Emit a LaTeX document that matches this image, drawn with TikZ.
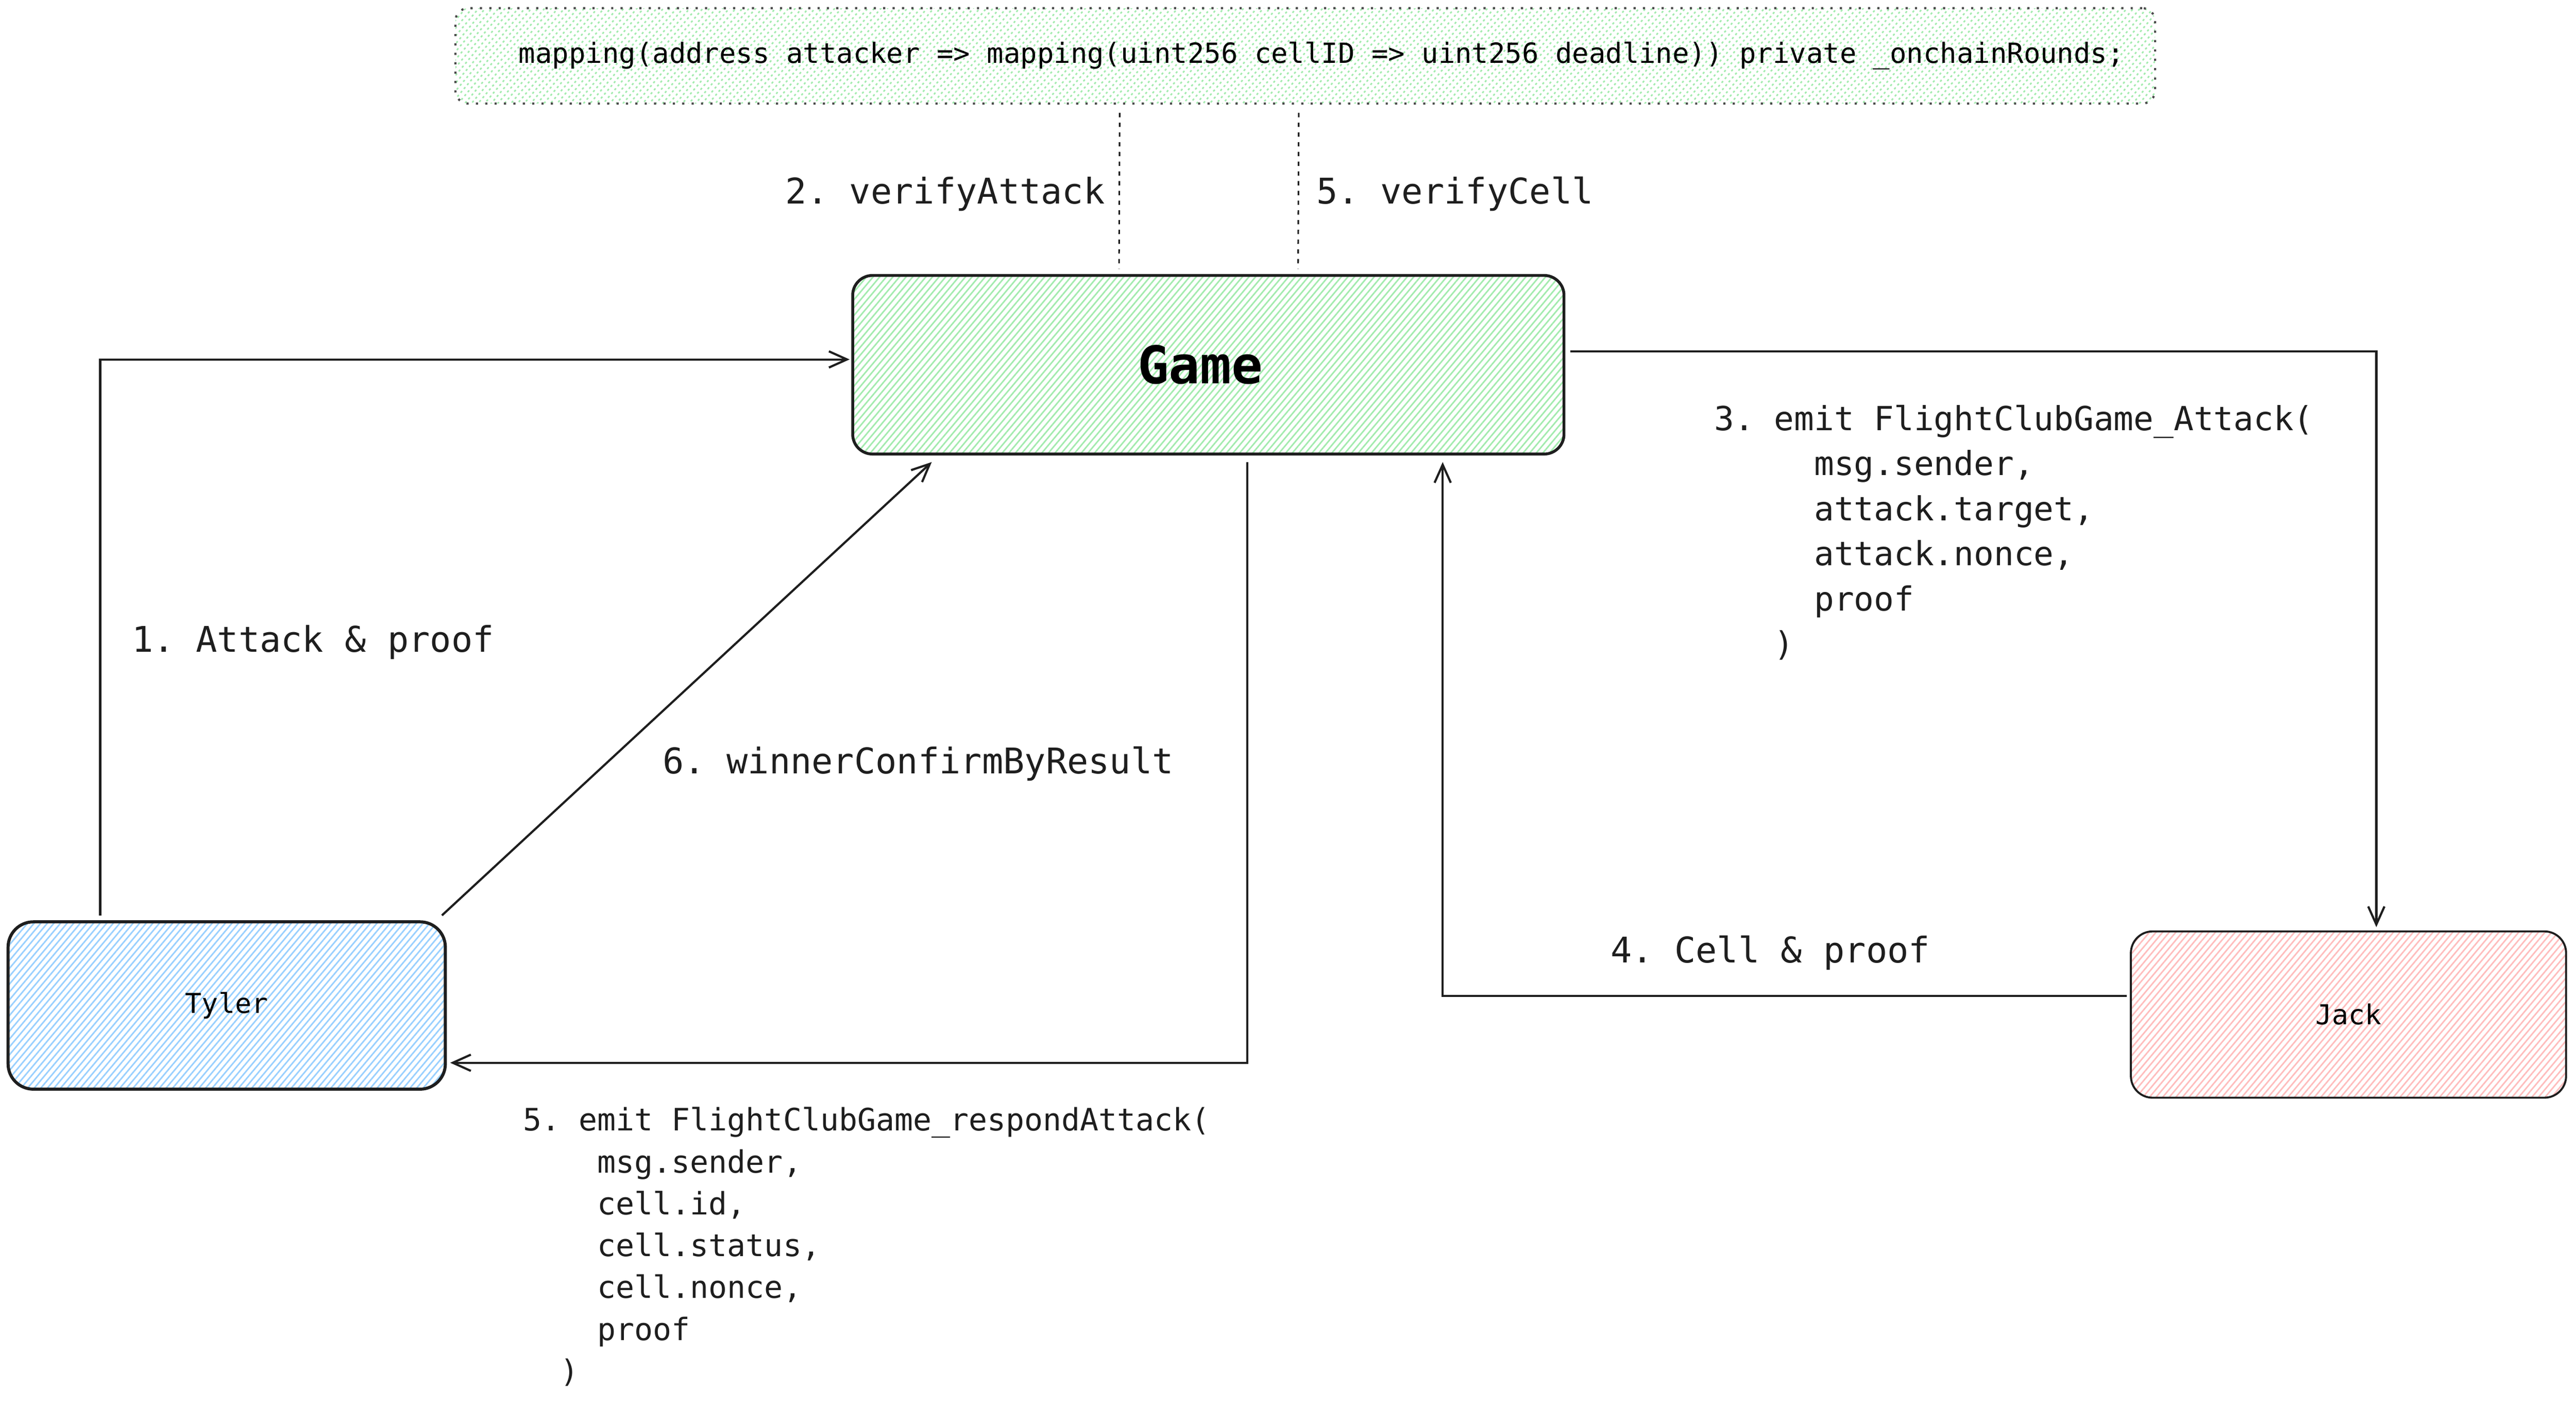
\documentclass[tikz,border=0pt]{standalone}
\usepackage{fontspec}
\setmonofont{DejaVu Sans Mono}
\usetikzlibrary{arrows.meta,patterns.meta,calc}
\definecolor{ink}{HTML}{1E1E1E}
\definecolor{hatchgreen}{HTML}{A3EBAE}
\definecolor{hatchblue}{HTML}{99D0FF}
\definecolor{hatchred}{HTML}{FFBDBD}
\begin{document}
\begin{tikzpicture}
  [x=0.016cm, y=-0.016cm,
   box/.style={draw=ink, inner sep=0pt},
   hatch/.style={pattern={Lines[angle=50,distance=1.4pt,line width=0.42pt]}, pattern color=#1},
   flow/.style={draw=ink, line width=0.6pt, -{Straight Barb[length=5pt,width=4.5pt]}},
   link/.style={draw=ink, line width=0.45pt, dash pattern=on 1.2pt off 1.5pt},
   lbl/.style={inner sep=0pt, text=ink, font=\ttfamily\fontsize{9.8}{12}\selectfont},
   code/.style={lbl, align=left, anchor=north west}]
  % Canvas
  \useasboundingbox (0,0) rectangle (1568,854.5);
  % Storage of the contract
  \node (map) at (794.5,34) [box, hatch=hatchgreen, draw=ink!80, dotted, line width=0.6pt,
    rounded corners=3.6pt, minimum width=16.56cm, minimum height=0.93cm,
    font=\ttfamily\fontsize{7.7}{9}\selectfont]
    {\hspace*{9pt}mapping(address attacker => mapping(uint256 cellID => uint256 deadline)) private \_onchainRounds;};
  % The contract and the two players
  \node (game) at (735.5,222) [box, hatch=hatchgreen, line width=0.8pt, rounded corners=5.5pt,
    minimum width=6.93cm, minimum height=1.74cm,
    font=\ttfamily\bfseries\fontsize{14.4}{16}\selectfont] {Game\hspace*{4.5pt}};
  \node (tyler) at (138,612) [box, hatch=hatchblue, line width=0.85pt, rounded corners=7pt,
    minimum width=4.26cm, minimum height=1.63cm, font=\ttfamily\fontsize{7.6}{9}\selectfont] {Tyler};
  \node (jack) at (1429.5,617.5) [box, hatch=hatchred, line width=0.55pt, rounded corners=6pt,
    minimum width=4.24cm, minimum height=1.62cm, font=\ttfamily\fontsize{7.6}{9}\selectfont] {Jack};

  % Reads of the storage
  \draw [link] ($(map.south west)+(405,5)$) -- ($(game.north west)+(163,-3)$);
  \draw [link] ($(map.south west)+(514,5)$) -- ($(game.north west)+(272,-3)$);
  \node (lverify) at (673,118) [lbl, anchor=east] {2. verifyAttack};
  \node (lcheck) at (801,118) [lbl, anchor=west] {5. verifyCell};

  % Tyler attacks
  \draw [flow] ($(tyler.north west)+(57,-3)$) |- ($(game.north west)+(-1,52)$);
  \node (lattack) at (80,391) [lbl, anchor=west] {1. Attack \& proof};
  \draw [flow] ($(tyler.north east)+(-3,-3)$) -- ($(game.south west)+(49,4)$);
  \node (lwinner) at (403,465) [lbl, anchor=west] {6. winnerConfirmByResult};

  % Event to Jack, and his answer
  \draw [flow] ($(game.north east)+(3,47)$) -| ($(jack.north west)+(150,-2)$);
  \node (lemit) at (1043,246) [code, font=\ttfamily\fontsize{9.2}{12.5}\selectfont]
    {3. emit FlightClubGame\_Attack(\\
     \phantom{00000}msg.sender,\\
     \phantom{00000}attack.target,\\
     \phantom{00000}attack.nonce,\\
     \phantom{00000}proof\\
     \phantom{000})};
  \draw [flow] ($(jack.north west)+(-2,40)$) -| ($(game.south west)+(360,4)$);
  \node (lcell) at (980,580) [lbl, anchor=west] {4. Cell \& proof};

  % Event back to Tyler
  \draw [flow] ($(game.south west)+(241,4)$) |- ($(tyler.south east)+(2,-17)$);
  \node (lrespond) at (318,673.5) [code, font=\ttfamily\fontsize{8.55}{11.6}\selectfont]
    {5. emit FlightClubGame\_respondAttack(\\
     \phantom{0000}msg.sender,\\
     \phantom{0000}cell.id,\\
     \phantom{0000}cell.status,\\
     \phantom{0000}cell.nonce,\\
     \phantom{0000}proof\\
     \phantom{00})};
\end{tikzpicture}
\end{document}
